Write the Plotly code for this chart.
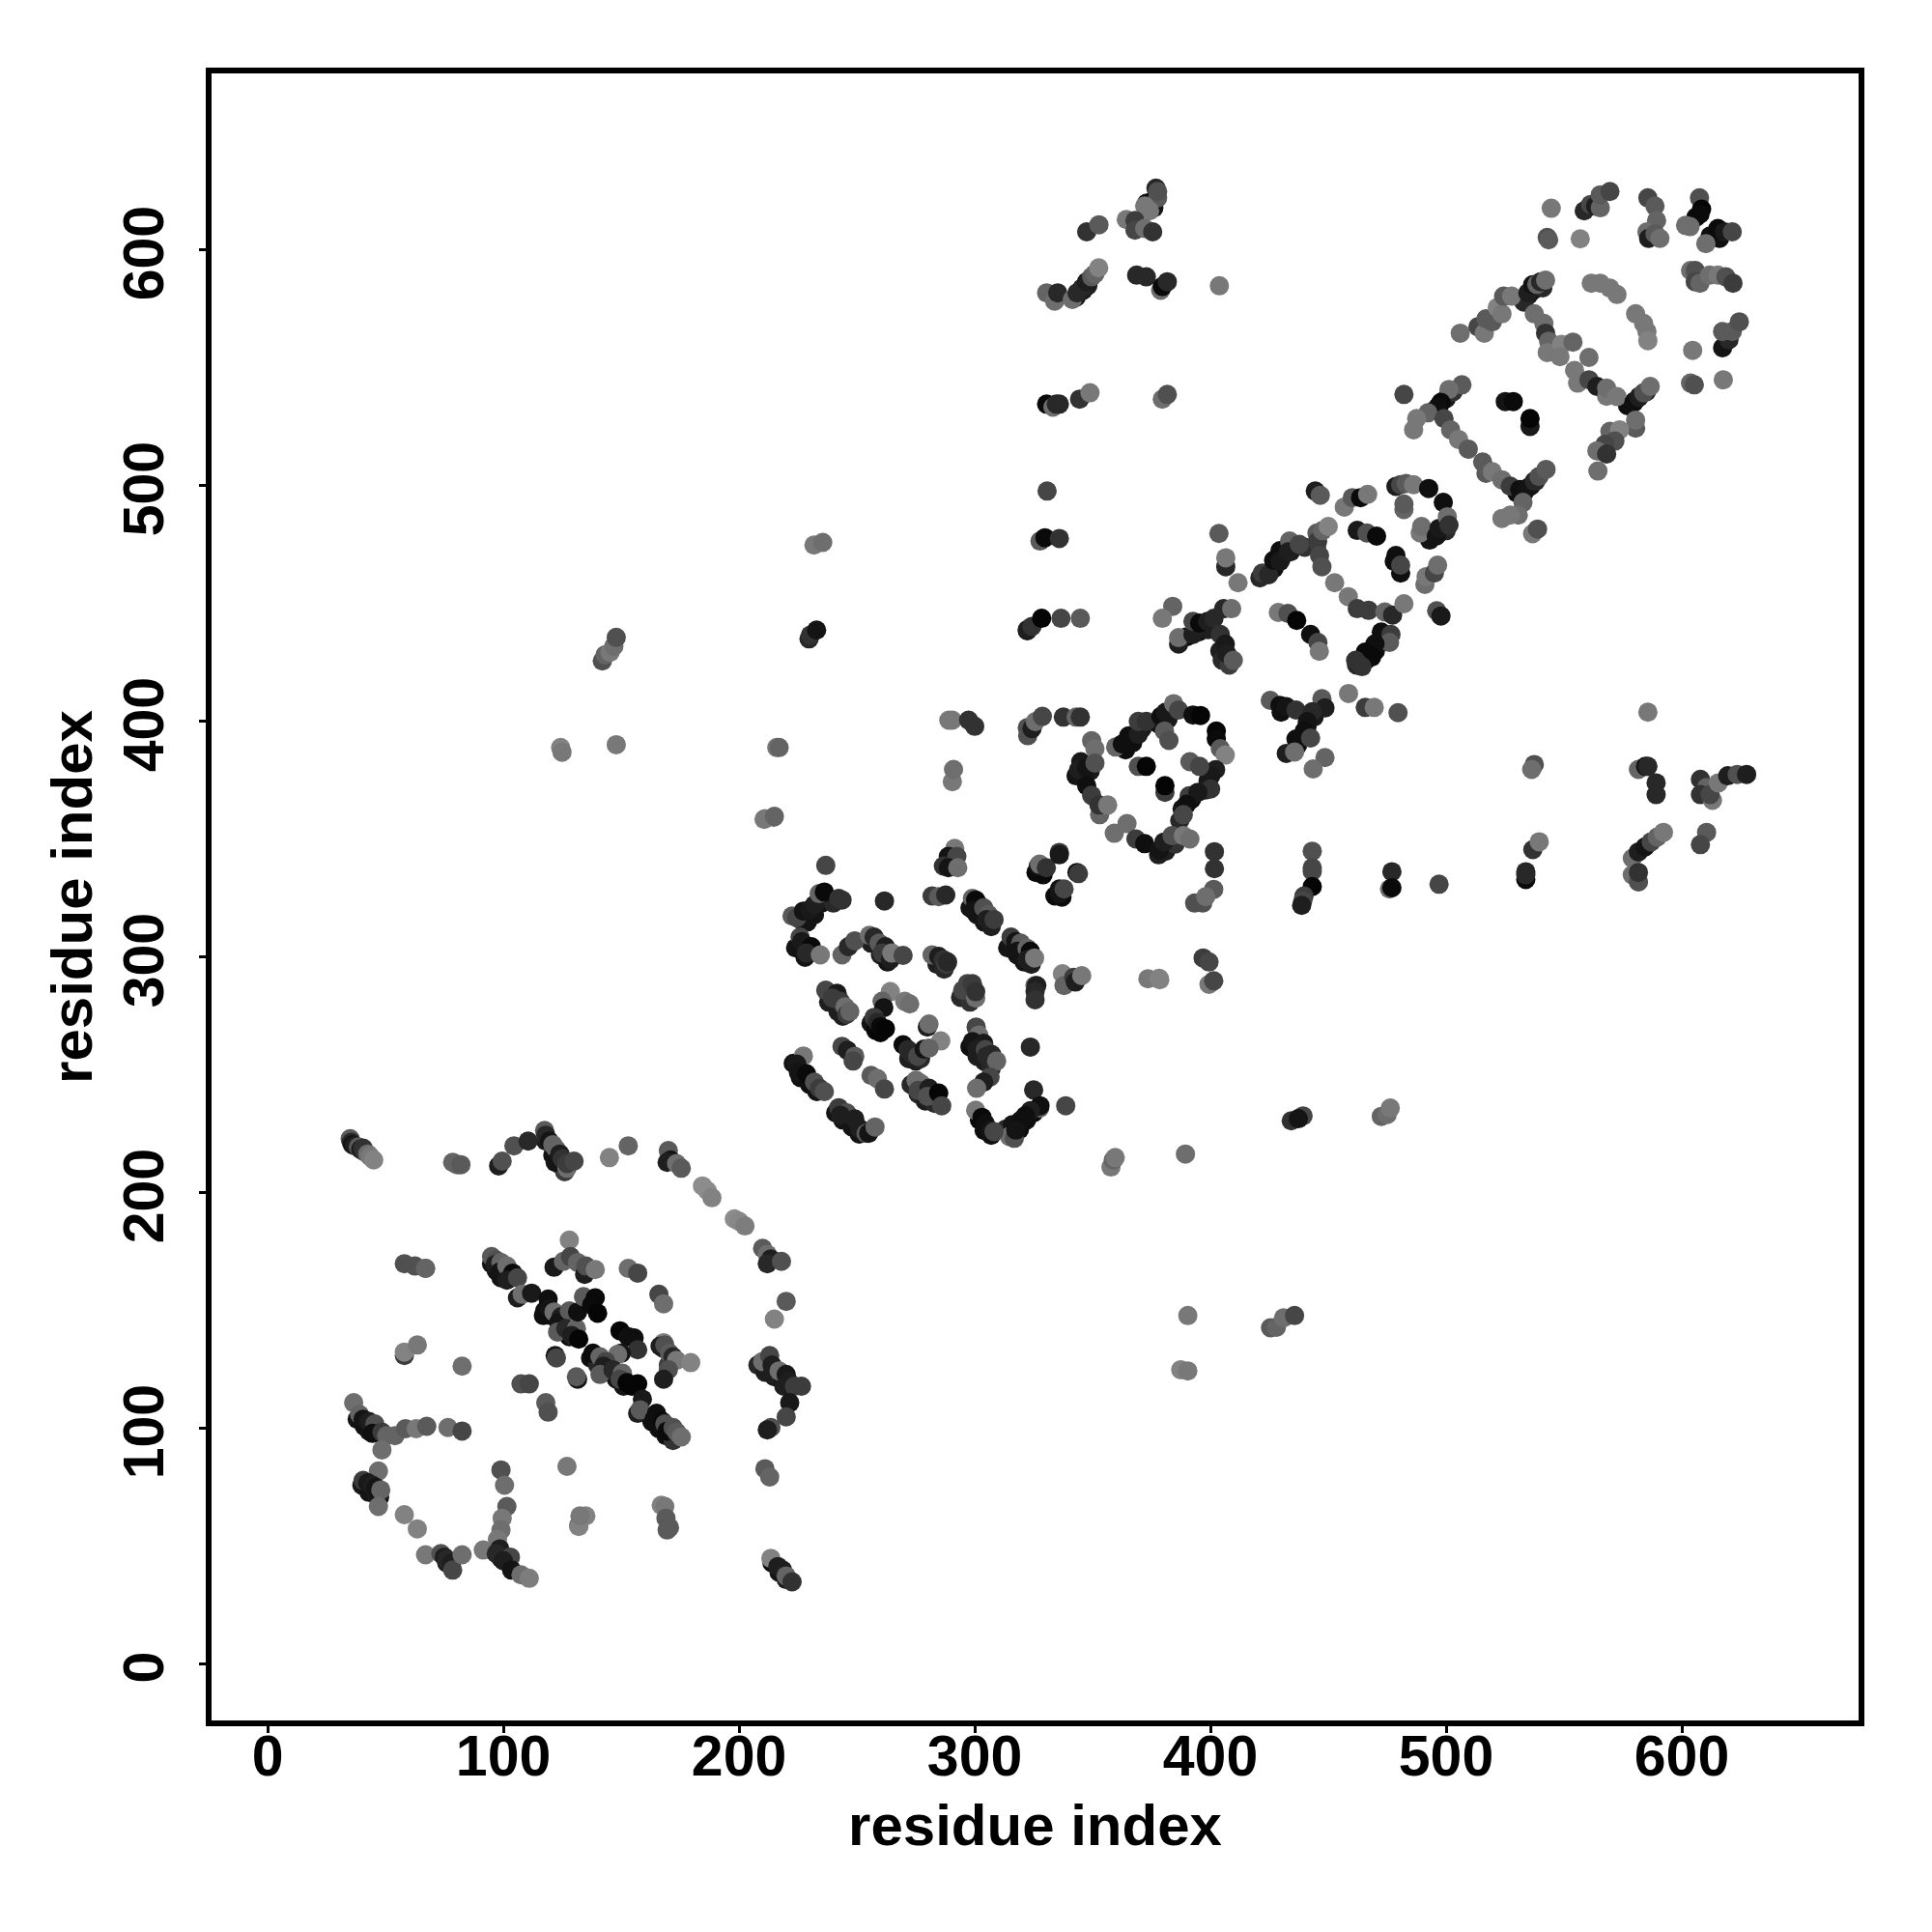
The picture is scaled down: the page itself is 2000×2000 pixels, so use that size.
import plotly.graph_objects as go

# each row: residue i, residue j, score (grey level of the point)
block_under = [
(223,255,20),(226,249,15),(230,246,15),(233,243,20),(241,234,20),(244,231,20),(248,228,20),(251,225,20),
(224,304,20),(228,300,20),(256,306,30),(260,301,30),(263,298,20),
(238,281,30),(242,277,30),(244,275,30),(256,272,20),(258,269,10),(260,268,5),
(272,257,30),(275,256,30),(277,257,40),(273,246,40),(276,242,40),(279,239,30),(283,238,40),
(298,262,15),(301,258,30),(304,256,30),(307,253,40),(302,231,10),(304,226.5,15),(307,224.5,15),
(313,227,40),(316,229,20),(319,227,15),(322,231,15),(325,234,15),
(298,321,20),(301,318,20),(304,315,20),(307,313,30),(314,304,20),(318,301,20),(321,298,20),(324,297,30),
(284,297,30),(287,295,40),(294,283,40),(298,281,50),
(226,316,40),(229,315,20),(232,318,20),(235,323,20),(240,323,40),
(326,336,10),(329,335,10),(334,326,10),(337,325.5,10),
(343,377,20),(345,383,25),(349,379,25),(364,388,15),(367,391,15),(371,397,25),(378,399,15),(382,401,25),
(399,375,25),(398,371,30),(392,367,15),(388,363,20),(387,358,40),(378,343.5,30),(381,345,30),(385,348,50),
(421,461,40),(427,465,15),(430,469,15),(434,472,30),(440,474,50),(445,474,50),
(390,436,15),(395,438,15),(399,439,30),(404,430,30),(405,426,40),(408,424,60),
(462,424,40),(466,426,15),(470,430,15),(474,434,30),(478,468,15),(493,477,20),(497,480,20),(500,481,40),
(430,404,15),(437,390,15),(439,393,20),(441,398,15),(444,402,25),
(535,581,25),(537,583,20),(539,585,25),(541,584,40),(533,578,40),
(577,534,15),(580,536,15),(582,538,25),(585,540,40),(530,497,15),(533,497,15),(536,500,25),(538,502,40),
(495,532,15),(497,534,15),(500,537,25),(503,540,50),(565,515,50),(568,517,40),(571,520,50),
(95,170,20),(97,167,20),(99,164,20),(117,148,15),(120,148,15),(124,143,15),(128,139,10),
(137,130,15),(140,127,40),(143,124,30),(148,121,20),(151,118,20),(163,103,15),(166,100,15),(169,97,15),(172,95,50),
(168,134,30),(170,127,60),(208,127,40),(211,124,30),(215,122,25),(219,118,30),(38,104,20),(41,101,15),(43,99,20),
(118,222,30),(121,216,20),(124,212,30),(126,209,60),(214,43,15),(217,39,20),(220,36,30),(76,43,30),(96,48,30),(99,45,20),
(40,76,25),(43,73,20),(46,72,25),(343,580,25),(346,583,25),(348,585,30),(373,620,20),(376,618,20),(606,614,10),(612,606,15),(616,605,15),
]
block_a_top = [
(35,223,90),(35.5,221.5,40),(36,220.5,20),(37,220,30),(38.5,219.5,90),(39.5,218.5,30),(40.5,219,50),(41,217.5,50),(42.5,216.5,110),(43.5,215.5,120),(45,214,130),
(78.5,213,100),(79.5,212.5,100),(80.5,212,100),(82,212,90),
(98,211.5,30),(99.5,213.5,80),(104.5,220,80),(110.5,222,40),(117.5,226.5,90),(118,224.5,40),(119.5,222,20),(121,220.5,100),(122.5,218.5,100),(122,213,20),(124,216.5,30),(125,214.5,50),(127,210.5,110),(127,212.5,60),(130,213.5,70),
(145,215,130),(153,220,100),
(170,218,90),(171,214,20),(169.5,213,30),(173.5,212.5,110),(175.5,210.5,90),
(184.5,203,140),(186.5,201,140),(188.5,198,130),
(198,189,140),(200,188,135),(202.5,186,125),
(210,176.5,90),(212,174,110),(213.5,172,30),(212,170,40),(218,171,80),
(220,154,90),(215,146.5,130),
]
block_a_right = [
(210,128.5,110),(213,131,70),(214,127,30),(214,123,30),(217,124.5,110),(220,123,25),(221,120,30),(223.5,118,60),(226.5,118,60),
(221.5,111,25),(220,105,70),(213.5,100.5,80),(212,99.5,30),(211,83,90),(213,79.5,100),
(213.5,45,130),(216.5,41.5,30),(218.5,40,30),(220,37.5,100),(222.5,35,50),
]
block_a_diag = [
(95,173,90),(97,171.5,80),(96.5,169.5,30),(99,170.5,100),(98.5,166.5,20),(101.5,169,110),(104,166,10),(101.5,163,30),(106,164,70),
(106,155.5,30),(108,157,110),(112,157.5,25),
(119,155,15),(117.5,150,15),(119.5,151,20),(121.5,149.5,110),(124.5,147.5,30),(123.5,145,20),(123,141,90),(128,150,90),(126.5,142.5,40),(131,142.5,100),(129,139.5,30),(132,138,5),
(131.5,149.5,15),(134,156,90),(139,155.5,10),(137.5,152.5,10),(140,149,5),
(149.5,141.5,5),(155.5,138.5,15),(153,139,15),(157,133.5,50),(150,132,20),(148.5,131.5,110),
(122,131,20),(122.5,130,70),(131.5,121,20),(131,122,90),
(138,132,10),(141,130.5,100),(143.5,128.5,70),(142.5,126.5,30),(141,123,90),(146.5,125,40),(150.5,123.5,100),(149.5,121,70),(152.5,119.5,5),(157,119,5),(154.5,118,5),
(159,112.5,25),(157,106.5,30),(158,108,90),
(165,106.5,15),(164,104,15),(167.5,103,10),(168.5,102,80),(169.5,99,10),(172,100.5,80),(173.5,98.5,90),(175.5,96.5,110),
(153,168,110),(157,166,70),(166,157,70),(168,153,110),
(168,136.5,130),(166.5,135,30),(168.5,135.5,80),(170.5,132,90),(172,130.5,40),(173.5,129,120),(179.5,128,130),(170,125,80),(168,121,30),
(128,180,130),(121.5,168.5,25),(125.5,171,100),(128.5,173,70),(131.5,170.5,100),(134.5,165.5,30),(135,169,80),(139,167.5,120),
]
block_a_left = [
(58,170,80),(62.5,169,80),(67,168,110),(67,168,100),
(58,131,60),(58,132.5,130),(63.5,135.5,120),(82.5,126.5,110),
(107.5,119,80),(111,119,70),(118,111,90),(119,107,80),(127,84,120),
(36.5,111,110),(39,106,100),(40.5,104,20),(43,103,30),(45.5,102,80),(44.5,98,15),(48.5,98.5,60),(50.5,97,100),(54,97,100),(48.5,91,110),
(58.5,100,90),(63,100,120),(67.5,101,90),(76.5,100.5,110),(82.5,99,70),
(47,82,110),(40.5,78,60),(42.5,77,25),(44.5,76,30),(46,75,20),(47.5,71,20),(48,74,100),(47,67,110),
(58,63.5,130),(63.5,57.5,130),
(67,46.5,120),(73.5,47,80),(75,45.5,30),(76,44.5,40),(78,43,30),(78.5,40,70),(82.5,46.5,110),
(99,82.5,80),(100.5,76,110),(101.5,67,90),(99.5,62,120),(99,57,110),(97.5,53,120),(91.5,48.5,120),(98.5,49,30),(97,47,40),(103,45.5,70),(100,44,30),(103.5,40,20),(107.5,38,110),(111,36.5,125),
(132,59,60),(132,58.5,130),(135,63,130),(132.5,63,120),
(167,67.5,130),(168.5,67,120),(169,62,90),(170.5,58,90),(169.5,57,90),
]
block_b_left = [
(210.6,358.5,130),(214.7,359.4,100),(236.8,339,70),
(222.5,317.5,90),(224.5,316.8,70),(227.3,319.6,20),(230,320.2,25),(232,322.3,30),(234,327,100),(236.2,327.7,10),(242.3,325,50),(243.7,324.3,50),
(261.7,323.9,40),
(225.9,308.6,70),(226.6,306.6,25),(230.7,304.5,10),(228.6,301.8,40),(234.5,301,120),
(243.7,301,100),(246.4,304.5,40),(249.1,307,80),(255.3,309.3,110),(257.3,308.6,40),(259.4,306,90),(262.1,304.5,30),(260.7,301.8,60),(264.2,299,30),(264.8,301.8,120),(269.6,300.8,70),
(236.8,286,70),(241.6,284.7,25),(239.6,282.7,60),(243,281.3,60),(245,279,110),(245.7,275.8,60),(247,277,100),
(264.2,285.4,130),(260.7,281.3,100),(261.4,278.6,20),(270.3,281.3,120),(272.4,280.2,110),(257.3,274.5,60),(258.7,272.4,40),(260,270.5,10),(262.1,269.7,5),
(243.7,262.2,70),(246,260.5,30),(249.1,258,90),(248.4,256,70),
(256,249.9,90),(258.7,248.5,110),(261.7,244.1,70),
(227.3,258.1,120),(224.5,254.7,25),(225.2,251.2,20),(228.6,250.6,10),(232,247,80),(234.1,244.4,60),(236.2,243,80),
(242.3,236.2,60),(245.7,234,80),(243,233,30),(249.1,231.4,30),(251.2,227.3,30),(253.9,225.3,90),(255,225.3,20),(257.7,228,100),
]
block_b_right = [
(281.9,326,60),(284.7,325.7,90),(287.7,326.4,40),
(291.5,346.2,120),(288.8,342.8,20),(292.4,342.8,70),(286.7,338.7,50),(288.8,338,20),(292.8,338,110),
(299,325,100),(300.4,324.3,10),(301.7,322.3,10),(299.5,320,20),(303.8,321,80),(305.8,318.2,90),(305.1,316,30),(308.2,316,60),
(315.4,308.6,60),(317.4,306.6,20),(319.5,306,90),(318.1,302.5,20),(322.2,303.8,100),(323.6,302.5,10),(322.2,299,30),(325.4,299.7,120),
(281.9,301,100),(284.7,300.4,30),(286.7,299,50),(288,297,60),(288.5,298,40),
(294.9,286,70),(296.9,288.8,70),(299,288.8,60),(300.4,282.7,110),(300.4,285.4,50),
(325.6,288,90),(326.3,288,30),(325.6,285.4,40),(325.6,282,50),
(337.2,293,130),(337.9,288,100),(342,291.5,60),(342.7,289.5,30),(345.4,292.2,120),
(327,338.7,20),(327.5,339.5,110),(330.4,338,50),(335.9,344.5,60),(335.9,343.5,25),(343.4,336,10),(344,335.5,60),(335.9,329,20),(336,327,20),(337.9,329,70),
(401.7,344.8,50),(401.7,337.6,50),(401.4,328.8,90),(393.3,323,80),(396.7,323,80),(398,325.7,110),
(373.5,290.9,120),(378.2,291.1,130),(378.5,290.5,130),
(396.9,299.7,60),(399.4,298,70),(399.4,288.5,120),(401.4,290,70),
(279.9,270.4,30),(280.6,271.7,110),(285.6,264.5,130),(269.6,262.9,10),(271.7,260.8,40),(273.7,258.8,40),(275.8,258,70),(278.5,261,20),(280.6,261.5,100),
(300.6,270.4,70),(301.7,267,110),(299,264.2,20),(303.8,263.5,25),(301,261.2,30),(304.5,260.8,70),(307.2,258.8,40),(305,258,40),(309.3,256,100),
(323.6,261.9,40),(306.5,249.2,70),(303.8,247,30),(300.8,244.4,110),
(325,243.7,40),(327.5,236,100),(327.7,237,15),(323.6,234.9,30),(338.6,237,70),
(319.5,230.8,15),(321.5,232.8,15),(314.7,224,110),(316.8,223.2,80),(317.4,226.7,20),
(300.4,235.1,120),(303.1,232.1,10),(304.5,229.4,15),(306.5,226.7,20),(308.2,226,70),
(275.1,247.8,110),(277.1,246.5,110),(276,243.5,70),(280.6,244.4,30),(279.9,241,80),(284.7,242.4,5),(286,237,70),
]
block_c_left = [
(330.7,497.8,70),(327.7,476.6,90),(329.8,478,10),(335.9,477.7,50),
(322.3,438.5,20),(322.3,439,30),(324.3,440.4,50),(328.4,443.8,5),(336.6,443.8,70),(344.8,443.8,90),
(384,448.9,100),(379.6,443.8,120),
(322.5,394,80),(322.3,397.4,80),(324.3,397,30),(325.7,400,110),(328.7,402.2,70),(337.6,401.9,50),(343,401.9,100),(344.8,401.9,50),
]
block_c_ring = [
(349.6,391.9,100),(351,388.5,110),(344.1,379.6,30),(347.5,380.3,20),(351,382.4,80),(347.5,372.8,15),(349.6,368.7,60),(353,360.5,100),(352.7,364.6,50),(356.4,364.6,120),
(359.8,389.2,100),(362.6,390.5,15),(365.3,393.9,15),(369.4,394.6,30),(369.4,400.1,60),(372.8,400.1,50),(379,402.2,15),(381,404,25),(384.4,407.6,110),(386.5,404.9,70),(392.6,402.8,15),(395.8,402.6,5),(380.5,396,90),(382.4,392,80),
(402.5,396,5),(402.5,392.6,10),(404.2,388.5,90),(406.3,385.8,130),(402.2,379.6,30),(400.1,376.9,25),(400.1,371.4,50),(391.3,383,90),(395.4,381,70),(391,368.5,60),(394.7,370,25),(389.9,364.9,15),(388.5,360.5,70),
(369.4,381,80),(372.8,381,5),(380.7,370,60),(380.7,372.8,5),
(359.2,352.6,110),(364.6,356.7,110),(368.4,350.2,60),(372.1,348.2,15),(378.3,345.5,20),(380.3,348.9,30),(383.7,351.6,80),(388.5,351.6,120),(391.3,350.2,110),
]
block_c_mid = [
(403.6,479.8,90),(406.5,465.7,40),(406.5,469.5,120),(411.7,458.9,120),
(386.5,432.9,30),(386.5,435.6,110),(392.6,437,30),(392.6,442.5,70),(395.4,441.8,10),(398.8,442.5,30),(401.5,443.8,40),(405.6,447.9,40),(409,447.9,110),(404.2,437,50),(406.3,432.9,25),(407,428.8,30),(409.7,426,90),
(422,463,60),(424.7,462.3,40),(426.8,468.4,15),(429.5,472.5,15),(429.5,468,25),(433.6,476.6,100),(433,472,30),(437.7,475.2,70),(445.2,480,90),(445.5,476.5,60),(447.5,481,100),(450,482.8,130),
(446.3,470.5,70),(447.3,465.7,80),(452.7,458.9,120),(458.5,453,120),
(444.5,497.8,30),(446.6,496,90),(456.8,491,120),(460.2,495,90),(463.7,495,10),(466.7,496.4,120),
(478.7,499.8,30),(480.7,500.5,70),(483,501,90),(486.2,500.5,120),(492.6,498.9,15),(498.8,493,15),(482.1,490,100),(482.1,492.3,90),
(489,480,120),(489.6,482.8,110),(495.8,478.7,20),(497,482,25),(500.5,486.9,110),(501.2,483.4,50),
(462.3,481.1,25),(466.4,480,80),(470.5,478.7,10),(478.7,470.5,15),(480.7,463,15),(480.7,466.4,70),
(491,458.2,110),(491.5,461.5,120),(495,463,70),(496.4,466.4,110),
(462.3,447.9,60),(467.1,447.2,60),(474,446.5,100),(477.3,445.2,40),(482.1,450,120),(496,447,80),(497.8,444.8,25),
(428.8,446.3,120),(432.9,445.9,80),(436.6,442.9,5),(442.5,437,15),(445.6,433.6,70),(446.2,429.8,120),
(472.5,438,15),(476.6,437,60),(476,433.6,90),(469.8,433,15),(465.7,429.5,10),(468.4,427.4,10),(461.6,426,50),(464.3,423.3,50),
(425.4,409,90),(429.5,406.9,15),(432.2,406.3,20),(436.3,404.9,50),(447.3,409.7,90),(448.6,405.8,30),(443.2,404.2,40),(441.1,400,20),(439.8,396,15),(436.3,392.6,15),(442.5,393,70),(432.2,386.5,30),(435.7,387.1,110),
(448.6,384.7,100),(443.6,379.9,110),(458.6,411.9,120),(465.7,406,60),(469.5,406,120),(479.6,403.8,80),
]
block_d_low = [
(443.2,345,80),(443.2,338,70),(443.2,336.5,70),(443.2,330,5),(439.7,326,60),(439.2,324,70),(438.7,322,30),
(477,336.3,40),(476,329,110),(477,329.5,10),(497,331,70),
(536.8,345.7,50),(539.5,349,120),(533.8,333,10),(533.8,336.3,40),(533.8,335,40),
(585.6,404,120),(581.6,379.7,100),(584.6,381,20),(585.6,381,40),(589.1,374,40),(589.1,369,40),
(537.4,381.8,80),(536.3,379.7,110),
(607.9,375.5,50),(610.5,372,100),(607.9,369,50),(613,366.6,120),(612,369,70),(615.5,374,120),(619.5,377,30),(623.5,377.6,80),(627.5,377.6,30),
(610.5,353,90),(607.9,347.8,70),
(579,342,110),(581.6,344.7,30),(584.4,346.8,20),(587,349,70),(589.6,351,100),(592.2,353,120),
(579,335,110),(581.6,332,80),(581.6,336,50),
]
block_far = [
(434.3,230.6,50),(439.3,232.7,70),(437.3,231.5,20),(472.5,232.5,100),(475,233.3,110),(476.3,236,120),
(357.8,211,120),(358.8,214,100),(359.6,215,120),(389.4,216.5,110),
(390.4,148,120),(387.4,125,130),(390.4,124.5,120),
(425.5,142.8,90),(428,143,100),(431,147,110),(435.7,148,70),
(124.3,389,130),(124.9,387,120),(147.9,390.2,120),(216,389,120),(217,389,100),
(211,358.8,120),(215,359.8,100),
(142,425.7,80),(143.2,428.3,100),(145.3,429.4,120),(146.9,432,110),(147.9,435.7,80),
(231.8,474.9,120),(235.5,476,110),(229.7,435.1,40),(230.3,436.7,50),(232.9,438.8,20),
(290.5,374.5,120),(291,379.7,110),(289,400.6,120),(290.5,400.6,120),(297.4,400.6,50),(300,398,50),
]
block_e_top = [
(376.9,626.3,40),(375.5,620.8,10),(377.6,622.2,90),(377.6,624.9,80),(372.1,618.7,120),(374.2,616.7,120),(364.3,613,120),(368,612.6,60),(368,608.5,70),(372.1,609.2,110),(375.5,607.8,50),
(347.5,607.8,50),(352.7,610.8,90),
(330.5,581.9,100),(333.9,578.4,110),(335.2,581.9,40),(341.4,579.1,110),(343.4,581.9,40),(345.5,583.9,40),(347.5,586.6,30),(349.6,588.7,90),(351,590,100),(352.6,592.5,130),
(368.7,589.4,40),(372.8,588.7,40),(378.9,583,110),(379.6,584.6,10),(381.7,586.6,40),(403.8,584.9,120),
(330.5,534.7,10),(333.2,533.4,110),(334.6,534.7,40),(335.9,534.7,40),(344.5,536.8,50),(348.9,539.5,120),
(379.6,536.8,110),(381.7,538.8,80),
]
block_f_top = [
(544.6,617.8,120),(542.9,605.4,80),(543.5,604.4,90),(556.9,604.8,130),
(558.6,616.7,40),(561.3,619.4,70),(563.4,618.7,30),(565.4,618,100),(565.4,623.5,90),(569.5,624.9,70),
(585.6,622.2,70),(588.6,618.7,90),(589.3,612.6,100),(585.2,607.8,110),(585.9,605,30),(588.6,607,90),(590.7,605,110),
(607.5,622.2,80),(608.4,617.4,5),(607.7,615.3,10),(601.6,610.5,110),(603.5,610,110),(610.2,602.8,110),(615.3,609.2,10),(618,607.8,25),(621.4,607.8,70),
(603.7,591.4,110),(605.7,591.4,80),(605.7,586.6,70),(607.7,586,100),(611.8,589.4,110),(615.3,589.4,120),(618.7,588.7,80),(621.7,586,60),
(617.3,558.6,20),(620,562,40),(617.3,565.5,90),(621.4,565.5,90),(624.4,569.6,80),
(604.6,557.5,120),(603.7,543.6,100),(605.3,542.9,80),(617.6,545,120),
(561.6,586,120),(565.4,586,120),(569.5,583.9,120),(572.5,581.2,120),(580.4,573,120),(583.8,568.9,120),(585.2,565.5,120),(585.6,561.6,130),
]
block_f_chain = [
(506,564.8,110),(513.5,567.5,70),(516.2,564.8,120),(516.9,570.9,90),(519.6,569.6,90),(521.7,575.7,130),(523.7,573,120),(524.4,580.5,90),(527.8,580.5,120),(534.7,581.9,30),(536.7,585.3,20),(538.5,585.5,100),(540.1,586.6,40),(542.2,587.3,110),
(537.4,573,110),(541.5,568.9,110),(542.2,564.8,50),(543.5,561.4,100),(542.9,556.6,120),(549,560,130),(553.8,561,100),(548.3,554.8,120),(560.6,554.5,110),(554.5,549,120),(555.8,543.6,120),(560.6,545,70),(564,542.2,30),(568.1,538,120),(568.1,541.5,110),(572.5,537.9,120),
(579.7,535.4,15),(581.8,537.5,30),(583.8,539.5,80),(586.6,542.2,110),(580.4,524.5,90),(580.4,527.9,110),(569.5,523.1,100),(573.6,523.8,130),(571.6,519,80),(567.4,517.6,70),(564,514.9,110),(568.1,513.5,50),(564.4,506.3,110),
(482.1,538.8,70),(506.7,542.9,90),(501.2,540.9,110),(497.8,535.4,10),(496.4,533.4,15),(492.3,531,100),(487.5,528.6,120),(486.2,523.8,120),(499.1,528.6,70),(501.9,523.8,100),(505.3,519.7,120),(509.4,515.6,90),(515.5,510.1,90),(516.9,505.3,90),(519.6,506,120),(523.7,502.6,110),(527.2,499.9,60),(531.3,498.5,15),(534.7,499.2,20),(537.4,502,40),(539.4,504,80),(542.4,507,90),(532.6,493,100),(530.6,487.6,110),(527.2,487.6,120),(523.7,486.2,120),(536.7,479.7,120),(538.8,481.7,80),
(525.1,535.8,20),(528.5,535.8,10),(535.6,525.2,25),(535.6,528.6,5),
]

blocks = [block_under, block_a_top, block_a_right, block_a_diag, block_a_left, block_b_left, block_b_right,
          block_c_left, block_c_ring, block_c_mid, block_d_low, block_far, block_e_top,
          block_f_top, block_f_chain]
rows = [r for b in blocks for r in b]
x_values = [r[0] for r in rows]
y_values = [r[1] for r in rows]
scores = [r[2] for r in rows]

tick_values = [0, 100, 200, 300, 400, 500, 600]
axis_title = "residue index"
font_family = "Liberation Sans, Arial, sans-serif"

fig = go.Figure(go.Scatter(
    x=x_values, y=y_values, mode="markers",
    marker=dict(size=20, color=[f"rgb({g},{g},{g})" for g in scores], line=dict(width=0)),
    hoverinfo="skip", cliponaxis=False,
))
axis = dict(
    tickmode="array", tickvals=tick_values, ticks="outside", ticklen=7, tickwidth=3, tickcolor="black",
    showline=True, linewidth=6, linecolor="black", mirror=True, showgrid=False, zeroline=False,
    tickfont=dict(family=font_family, size=59, color="black", weight="bold"),
    title=dict(text=axis_title, font=dict(family=font_family, size=60, color="black", weight="bold")),
    range=[-23.8, 675],
)
fig.update_xaxes(**axis)
fig.update_xaxes(title_standoff=20, ticklabelstandoff=-27)
fig.update_yaxes(**axis)
fig.update_yaxes(tickangle=-90, title_standoff=3, ticklabelstandoff=13, ticklabelshift=12)
fig.update_layout(
    width=1984, height=1984, autosize=False,
    margin=dict(l=211, r=68, t=68, b=211, pad=0, autoexpand=False),
    paper_bgcolor="white", plot_bgcolor="white", showlegend=False,
)
fig.write_html("out.html")
